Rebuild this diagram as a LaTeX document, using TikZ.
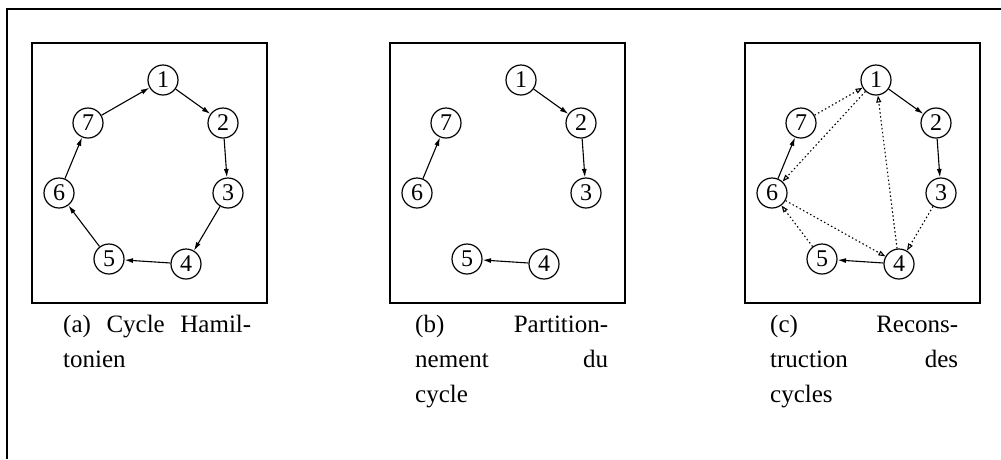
\documentclass[tikz,border=0pt]{standalone}
\usepackage{fontspec}
\setmainfont{Liberation Serif}
\usetikzlibrary{arrows.meta}

\begin{document}
\begin{tikzpicture}[
    x=1pt, y=-1pt,
    every node/.style={font=\fontsize{24}{24}\selectfont},
    vertex/.style={draw, circle, line width=1.2pt, minimum size=30pt, inner sep=0pt},
    panel/.style={draw, line width=1.4pt},
    frame/.style={line width=1.6pt},
    arr/.style={-{Latex[length=8.5pt,width=5pt]}, line width=1.1pt},
    rec/.style={-{Triangle[open,length=7pt,width=5pt]}, line width=1.1pt,
                dash pattern=on 1.5pt off 2.5pt},
    legend/.style={anchor=north west, inner sep=0pt, text width=188pt, align=justify,
                   font={\fontsize{25}{35}\selectfont\spaceskip=0.25em plus 1em minus 0.05em
                         \tolerance=10000 \hbadness=10000 }}
]
\useasboundingbox (0,0) rectangle (1001,459);
\draw[frame] (1001,9) -- (7,9) -- (7,459);

% the three panels share one layout
\foreach \p/\dx in {a/0, b/358, c/713} {
  \draw[panel] (32+\dx,43) rectangle (267+\dx,303);
  \foreach \n/\x/\y in {1/163/80, 2/223/123, 3/228/193, 4/186/264,
                        5/109/259, 6/59/193, 7/88/123}
    \node[vertex] (\p\n) at (\x+\dx,\y) {\n};
}

% (a) the whole cycle
\foreach \s/\t in {1/2, 2/3, 3/4, 4/5, 5/6, 6/7, 7/1}
  \draw[arr] (a\s) -- (a\t);

% (b) and (c) the kept pieces
\foreach \s/\t in {1/2, 2/3, 4/5, 6/7} {
  \draw[arr] (b\s) -- (b\t);
  \draw[arr] (c\s) -- (c\t);
}

% (c) closing edges
\foreach \s/\t in {3/4, 4/1, 5/6, 6/4, 7/1, 1/6}
  \draw[rec] (c\s) -- (c\t);

\node[legend] (capa) at (63,315)  {(a) Cycle Hamil-\linebreak tonien};
\node[legend, text width=193pt] (capb) at (415,315) {(b) Partition-\linebreak nement du\linebreak cycle};
\node[legend] (capc) at (770,315) {(c) Recons-\linebreak truction des\linebreak cycles};
\end{tikzpicture}
\end{document}
